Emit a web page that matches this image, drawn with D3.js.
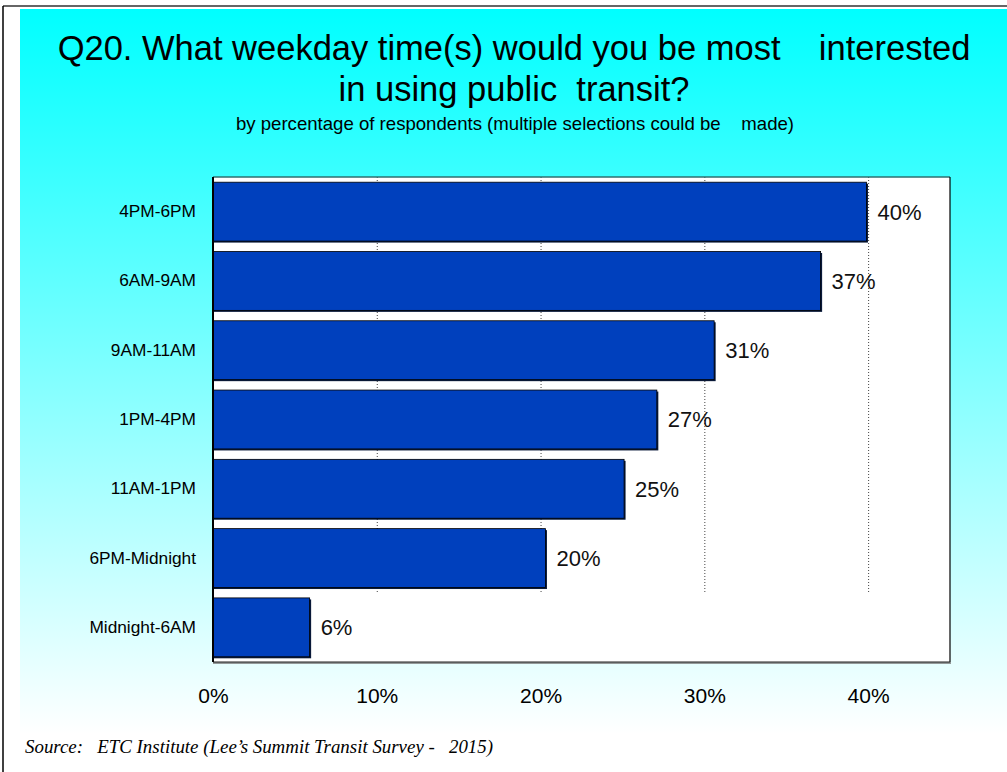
<!DOCTYPE html>
<html>
<head>
<meta charset="utf-8">
<script src="https://cdn.jsdelivr.net/npm/d3@7"></script>
<style>
  body { margin: 0; background: #fff; }
  text { white-space: pre; }
</style>
</head>
<body>
<svg id="chart" width="1007" height="772"></svg>
<script>
var titleLines = ['Q20. What weekday time(s) would you be most    interested', 'in using public  transit?'];
var subtitle = 'by percentage of respondents (multiple selections could be    made)';
var source = 'Source:   ETC Institute (Lee\u2019s Summit Transit Survey -   2015)';

var categories = ['4PM-6PM', '6AM-9AM', '9AM-11AM', '1PM-4PM', '11AM-1PM', '6PM-Midnight', 'Midnight-6AM'];
var percentages = [39.9, 37.1, 30.6, 27.1, 25.1, 20.3, 5.9];
var tickValues = [0, 10, 20, 30, 40];

function horizontalBarChart(id) {

  (function init() {

    draw(id, transform());
  })();

  function transform() {

    return categories.map(function (c, i) {

      return { label: c, value: percentages[i] };
    });
  }

  function draw(id, data) {

    var svg = d3.select('#' + id),
        margin = { top: 177, right: 57, bottom: 110, left: 213 },
        width = +svg.attr('width') - margin.left - margin.right,
        height = +svg.attr('height') - margin.top - margin.bottom;

    // page frame and background
    var defs = svg.append('defs');
    var grad = defs.append('linearGradient')
        .attr('id', 'bg')
        .attr('x1', 0).attr('y1', 0).attr('x2', 0).attr('y2', 1);
    grad.append('stop').attr('offset', '0%').attr('stop-color', '#00ffff');
    grad.append('stop').attr('offset', '95%').attr('stop-color', '#ffffff');

    svg.append('rect')
        .attr('x', 20).attr('y', 9)
        .attr('width', 987).attr('height', 763)
        .attr('fill', 'url(#bg)');

    svg.append('line')
        .attr('x1', 3).attr('x2', 1007).attr('y1', 6).attr('y2', 6)
        .attr('stroke', '#666').attr('stroke-width', 2);
    svg.append('line')
        .attr('x1', 3).attr('x2', 3).attr('y1', 6).attr('y2', 772)
        .attr('stroke', '#000').attr('stroke-width', 1.5);

    // titles
    svg.append('g')
        .attr('font-family', 'Liberation Sans, Arial, sans-serif')
        .attr('font-size', 34.5)
        .attr('text-anchor', 'middle')
      .selectAll('text')
      .data(titleLines)
      .enter().append('text')
        .attr('x', 514)
        .attr('y', function (d, i) { return 60 + i * 41; })
        .text(function (d) { return d; });

    svg.append('text')
        .attr('x', 515)
        .attr('y', 130)
        .attr('font-family', 'Liberation Sans, Arial, sans-serif')
        .attr('font-size', 18.6)
        .attr('text-anchor', 'middle')
        .text(subtitle);

    svg.append('text')
        .attr('x', 25)
        .attr('y', 753)
        .attr('font-family', 'Liberation Serif, Times New Roman, serif')
        .attr('font-style', 'italic')
        .attr('font-size', 18.9)
        .text(source);

    var x = d3.scaleLinear()
        .domain([0, 45])
        .range([0, width]);

    var y = d3.scaleBand()
        .domain(data.map(function (d) { return d.label; }))
        .range([0, height])
        .paddingInner(0.15)
        .paddingOuter(0.075);

    var g = svg.append('g').attr('transform', 'translate(' + margin.left + ',' + margin.top + ')');

    g.append('rect')
        .attr('width', width)
        .attr('height', height)
        .attr('fill', '#fff');

    // dotted gridlines
    var gridBottom = y(categories[categories.length - 1]) - y.step() * y.paddingInner() / 2;
    g.append('g')
      .selectAll('line')
      .data(tickValues.slice(1))
      .enter().append('line')
        .attr('x1', function (d) { return x(d) + 0.5; })
        .attr('x2', function (d) { return x(d) + 0.5; })
        .attr('y1', 0)
        .attr('y2', gridBottom)
        .attr('stroke', '#444')
        .attr('stroke-width', 1)
        .attr('stroke-dasharray', '1,2');

    var bars = g.append('g')
      .selectAll('g')
      .data(data)
      .enter().append('g');

    bars.append('rect')
        .attr('x', 0)
        .attr('y', function (d) { return y(d.label) + 1.5; })
        .attr('width', function (d) { return x(d.value) + 1.5; })
        .attr('height', y.bandwidth())
        .attr('fill', '#0a1a3a');

    bars.append('rect')
        .attr('x', 0)
        .attr('y', function (d) { return y(d.label); })
        .attr('width', function (d) { return x(d.value); })
        .attr('height', y.bandwidth())
        .attr('fill', '#0040bd')
        .attr('stroke', '#000')
        .attr('stroke-width', 0.8);

    bars.append('text')
        .attr('x', function (d) { return x(d.value) + 11; })
        .attr('y', function (d) { return y(d.label) + y.bandwidth() / 2; })
        .attr('dy', '0.36em')
        .attr('font-family', 'Liberation Sans, Arial, sans-serif')
        .attr('font-size', 22)
        .attr('fill', '#111')
        .text(function (d) { return Math.round(d.value) + '%'; });

    // frame
    g.append('line')
        .attr('x1', 0).attr('x2', width).attr('y1', 0).attr('y2', 0)
        .attr('stroke', '#2f6f6f').attr('stroke-width', 1.5);
    g.append('line')
        .attr('x1', width).attr('x2', width).attr('y1', 0).attr('y2', height)
        .attr('stroke', '#000').attr('stroke-width', 1.2);
    g.append('line')
        .attr('x1', 0).attr('x2', width + 1).attr('y1', height + 1).attr('y2', height + 1)
        .attr('stroke', '#777').attr('stroke-width', 1.5);
    g.append('line')
        .attr('x1', 0).attr('x2', width).attr('y1', height).attr('y2', height)
        .attr('stroke', '#222').attr('stroke-width', 1.2);
    g.append('line')
        .attr('x1', 0).attr('x2', 0).attr('y1', 0).attr('y2', height)
        .attr('stroke', '#000').attr('stroke-width', 2);

    // x axis labels
    var xAxis = g.append('g')
        .attr('transform', 'translate(0,' + height + ')')
        .call(d3.axisBottom(x)
          .tickValues(tickValues)
          .tickSize(0)
          .tickPadding(26)
          .tickFormat(function (d) { return d + '%'; }));

    xAxis.select('.domain').remove();
    xAxis.selectAll('text')
        .attr('font-family', 'Liberation Sans, Arial, sans-serif')
        .attr('font-size', 21)
        .attr('fill', '#000');

    // y axis labels
    var yAxis = g.append('g')
        .call(d3.axisLeft(y).tickSize(0).tickPadding(17));

    yAxis.select('.domain').remove();
    yAxis.selectAll('text')
        .attr('font-family', 'Liberation Sans, Arial, sans-serif')
        .attr('font-size', 17.3)
        .attr('fill', '#000');
  }
}

horizontalBarChart('chart');
</script>
</body>
</html>
